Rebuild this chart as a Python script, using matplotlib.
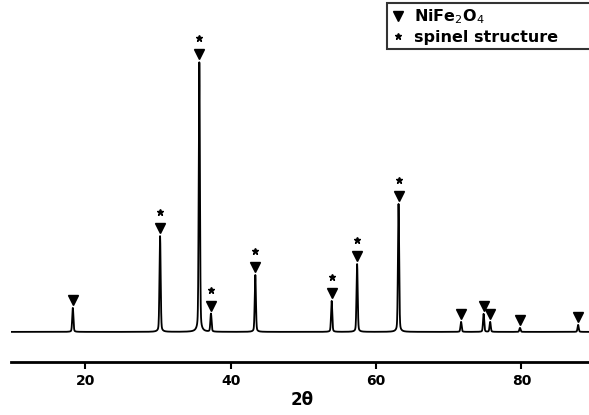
import numpy as np
import matplotlib.pyplot as plt
from matplotlib.lines import Line2D

# ---- DATA ----  (2theta, relative intensity, spinel flag)
peak_pos = [18.3, 30.3, 35.7, 37.3, 43.4, 53.9, 57.4, 63.1, 71.7, 74.8, 75.7, 79.8, 87.8]
peak_int = [24, 96, 270, 18, 57, 31, 68, 128, 10, 18, 10, 4, 7]
spinel   = [False, True, True, True, True, True, True, True, False, False, False, False, False]
xticks = [20, 40, 60, 80]

# ---- PATTERN ----
two_theta = np.linspace(9.8, 90, 6000)
counts = np.zeros_like(two_theta)
for p, h in zip(peak_pos, peak_int):
    counts += 0.85 * h * np.exp(-0.5 * ((two_theta - p) / 0.08) ** 2)
    counts += 0.15 * h / (1 + ((two_theta - p) / 0.15) ** 2)

fig = plt.figure(figsize=(5.89, 4.15), dpi=100)
ax = fig.add_axes([0.0187, 0.128, 0.99, 0.872])
ax.plot(two_theta, counts, color="black", lw=1.3)

for p, h, s in zip(peak_pos, peak_int, spinel):
    ax.plot(p, h + 8, marker="v", color="black", markersize=7, ls="none")
    if s:
        ax.plot(p, h + 24, marker="*", color="black", markersize=4.5, ls="none")

ax.set_xlim(9.8, 90)
ax.set_ylim(-30, 332)
for sp in ["top", "right", "left"]:
    ax.spines[sp].set_visible(False)
ax.spines["bottom"].set_linewidth(2)
ax.set_yticks([])
ax.set_xticks(xticks)
ax.tick_params(axis="x", direction="out", length=5, width=1.5, pad=4)
for lab in ax.get_xticklabels():
    lab.set_fontweight("bold")
    lab.set_fontsize(10)
ax.set_xlabel("2θ", fontsize=12, fontweight="bold", labelpad=2)

handles = [
    Line2D([], [], marker="v", color="black", ls="none", markersize=7),
    Line2D([], [], marker="*", color="black", ls="none", markersize=4.5),
]
leg = ax.legend(handles, ["NiFe$_2$O$_4$", "spinel structure"],
                loc="upper left", bbox_to_anchor=(0.645, 0.872, 0.37, 0.12),
                mode="expand", borderaxespad=0,
                frameon=True, fancybox=False, edgecolor="black",
                handlelength=0.8, handletextpad=0.6, borderpad=0.3,
                labelspacing=0.2, prop={"size": 11.5, "weight": "bold"})
leg.get_frame().set_linewidth(1.5)

plt.savefig("out.png", dpi=100)
